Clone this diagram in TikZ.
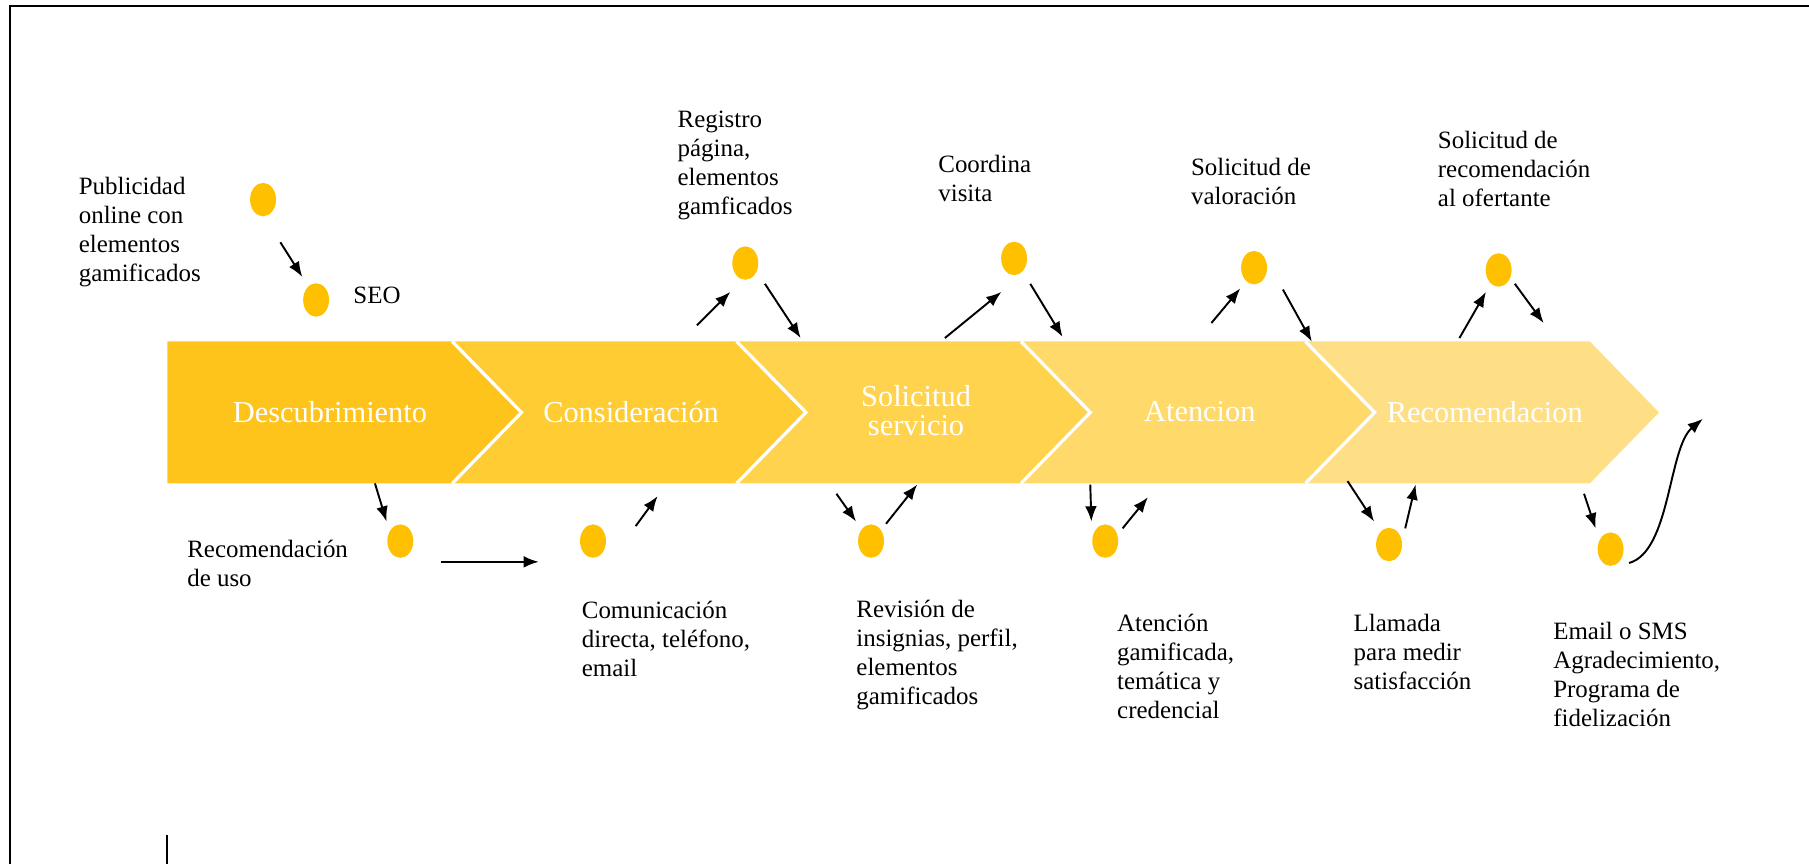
\documentclass[tikz,border=0pt]{standalone}
\usepackage{fontspec}
\setmainfont{Liberation Serif}
\usetikzlibrary{arrows.meta,shapes.geometric}
\definecolor{dotc}{RGB}{255,192,0}
\definecolor{cA}{RGB}{255,196,28}
\definecolor{cB}{RGB}{255,204,52}
\definecolor{cC}{RGB}{255,211,78}
\definecolor{cD}{RGB}{255,217,106}
\definecolor{cE}{RGB}{255,223,133}
\tikzset{
  dot/.style={ellipse, fill=dotc, minimum width=0.45cm, minimum height=0.58cm, inner sep=0pt},
  lbl/.style={anchor=north west, inner sep=0pt, align=left, font=\fontsize{12.3}{14.3}\selectfont},
  stage/.style={text=white, inner sep=0pt, align=center, font=\fontsize{15}{14.6}\selectfont},
  arr/.style={line width=0.95pt, -{Latex[length=7.5pt,width=5.8pt]}},
  notch/.style={white, line width=1.6pt},
  frameline/.style={line width=1.2pt}
}
\begin{document}
\begin{tikzpicture}[x=0.02cm,y=-0.02cm]
\useasboundingbox (0,0) rectangle (1568,749);
% frame
\draw[frameline] (8.7,749) -- (8.7,5) -- (1568,5);
\draw[line width=0.9pt] (145,724) -- (145,749);
% chevrons
\fill[cA] (145,296) -- (392,296) -- (452,357.5) -- (392,419) -- (145,419) -- cycle;
\fill[cB] (391.5,296) -- (638.5,296) -- (698.5,357.5) -- (638.5,419) -- (391.5,419) -- (451.5,357.5) -- cycle;
\fill[cC] (638,296) -- (885,296) -- (945,357.5) -- (885,419) -- (638,419) -- (698,357.5) -- cycle;
\fill[cD] (884.5,296) -- (1131.5,296) -- (1191.5,357.5) -- (1131.5,419) -- (884.5,419) -- (944.5,357.5) -- cycle;
\fill[cE] (1131,296) -- (1378,296) -- (1438,357.5) -- (1378,419) -- (1131,419) -- (1191,357.5) -- cycle;
\draw[notch] (392,296) -- (452,357.5) -- (392,419);
\draw[notch] (638.5,296) -- (698.5,357.5) -- (638.5,419);
\draw[notch] (885,296) -- (945,357.5) -- (885,419);
\draw[notch] (1131.5,296) -- (1191.5,357.5) -- (1131.5,419);
\node[stage] (s1) at (286,357) {Descubrimiento};
\node[stage] (s2) at (547,357) {Consideración};
\node[stage] (s3) at (794,356) {Solicitud\\servicio};
\node[stage] (s4) at (1040,357) {Atencion};
\node[stage] (s5) at (1287,357) {Recomendacion};
% dots
\node[dot] (d1) at (228,173) {};
\node[dot] (d2) at (274,260) {};
\node[dot] (d3) at (646,228) {};
\node[dot] (d4) at (879,224) {};
\node[dot] (d5) at (1087,232) {};
\node[dot] (d6) at (1299,234) {};
\node[dot] (d7) at (347,469) {};
\node[dot] (d8) at (514,469) {};
\node[dot] (d9) at (755,469) {};
\node[dot] (d10) at (958,469) {};
\node[dot] (d11) at (1204,472) {};
\node[dot] (d12) at (1396,476) {};
% labels
\node[lbl] (t1) at (68,153) {Publicidad\\online con\\elementos\\gamificados};
\node[anchor=west, inner sep=0pt, font=\fontsize{12.3}{14.3}\selectfont] (t2) at (306,256) {SEO};
\node[lbl] (t3) at (587,96) {Registro\\página,\\elementos\\gamficados};
\node[lbl] (t4) at (813,134) {Coordina\\visita};
\node[lbl] (t5) at (1032,137) {Solicitud de\\valoración};
\node[lbl] (t6) at (1246,113) {Solicitud de\\recomendación\\al ofertante};
\node[lbl] (t7) at (162,468) {Recomendación\\de uso};
\node[lbl] (t8) at (504,521) {Comunicación\\directa, teléfono,\\email};
\node[lbl] (t9) at (742,520) {Revisión de\\insignias, perfil,\\elementos\\gamificados};
\node[lbl] (t10) at (968,532) {Atención\\gamificada,\\temática y\\credencial};
\node[lbl] (t11) at (1173,532) {Llamada\\para medir\\satisfacción};
\node[lbl] (t12) at (1346,539) {Email o SMS\\Agradecimiento,\\Programa de\\fidelización};
% arrow end points
\coordinate (a1s) at (243,210); \coordinate (a1e) at (262,240);
\coordinate (a2s) at (325,419); \coordinate (a2e) at (335,452);
\coordinate (a3s) at (382,487); \coordinate (a3e) at (467,487);
\coordinate (a4s) at (551,456); \coordinate (a4e) at (570,430);
\coordinate (a5s) at (604,282); \coordinate (a5e) at (633,253);
\coordinate (a6s) at (663,246); \coordinate (a6e) at (694,293);
\coordinate (a7s) at (725,428); \coordinate (a7e) at (742,452);
\coordinate (a8s) at (768,454); \coordinate (a8e) at (795,420);
\coordinate (a9s) at (819,293); \coordinate (a9e) at (868,253);
\coordinate (a10s) at (893,246); \coordinate (a10e) at (921,292);
\coordinate (a11s) at (945,420); \coordinate (a11e) at (946,452);
\coordinate (a12s) at (973,458); \coordinate (a12e) at (995,431);
\coordinate (a13s) at (1050,280); \coordinate (a13e) at (1075,250);
\coordinate (a14s) at (1112,251); \coordinate (a14e) at (1137,296);
\coordinate (a15s) at (1168,417); \coordinate (a15e) at (1191,452);
\coordinate (a16s) at (1218,458); \coordinate (a16e) at (1227,420);
\coordinate (a17s) at (1265,293); \coordinate (a17e) at (1288,253);
\coordinate (a18s) at (1313,246); \coordinate (a18e) at (1338,280);
\coordinate (a19s) at (1373,428); \coordinate (a19e) at (1383,458);
\coordinate (a20s) at (1412,488); \coordinate (a20e) at (1476,363);
\foreach \i in {1,...,19} {\draw[arr] (a\i s) -- (a\i e);}
\draw[arr] (a20s) .. controls (1448,478) and (1446,388) .. (a20e);
\end{tikzpicture}
\end{document}
